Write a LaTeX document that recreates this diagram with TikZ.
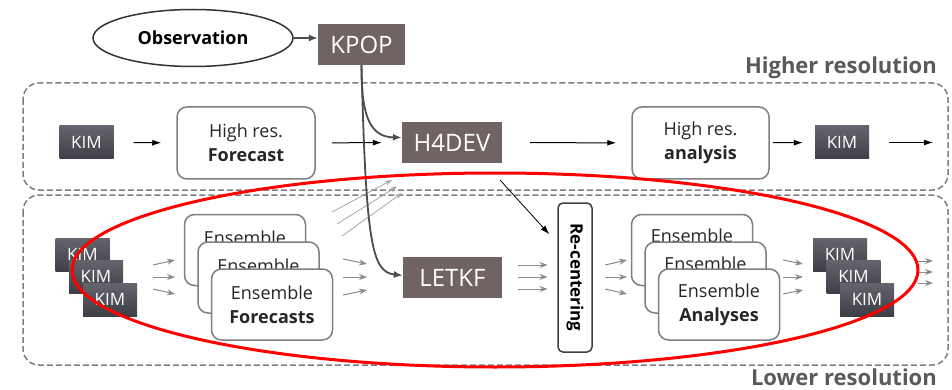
\documentclass[tikz,border=0pt]{standalone}
\usepackage{fontspec}
\setmainfont{Open Sans}
\usetikzlibrary{arrows.meta,shapes.geometric}

\definecolor{boxbrown}{HTML}{706363}
\definecolor{kimtop}{HTML}{64646C}
\definecolor{kimbot}{HTML}{3E3E46}
\definecolor{linegray}{HTML}{7F7F7F}
\definecolor{fangray}{HTML}{8A8A8A}
\definecolor{labelgray}{HTML}{5A5A5A}

\tikzset{
	kim/.style = {rectangle, minimum width=54pt, minimum height=33pt, inner sep=0pt, top color=kimtop, bottom color=kimbot, text=white, font=\fontsize{17}{20}\selectfont},
	brownbox/.style = {rectangle, fill=boxbrown, text=white, inner sep=0pt, font=\fontsize{24}{28}\selectfont},
	resbox/.style = {rectangle, draw=linegray, line width=1.5pt, rounded corners=10pt, fill=white, align=center, minimum width=138pt, minimum height=72pt, inner sep=0pt, text=black!85, font=\fontsize{18}{24}\selectfont},
	ensbox/.style = {resbox, minimum width=121pt, minimum height=71pt},
	obsnode/.style = {ellipse, draw=black!80, line width=1.5pt, minimum width=200pt, minimum height=57pt, inner sep=0pt, font=\bfseries\fontsize{18}{22}\selectfont},
	region/.style = {draw=linegray, line width=1.5pt, dash pattern=on 6pt off 3pt, rounded corners=16pt},
	restitle/.style = {inner sep=0pt, text=labelgray, font=\bfseries\fontsize{22}{24}\selectfont},
	darrow/.style = {-{Latex[length=9pt,width=6pt]}, line width=1pt, black},
	curvearrow/.style = {-{Latex[length=9pt,width=7pt]}, line width=1.8pt, black!70},
	garrow/.style = {-{Stealth[length=8pt,width=6pt]}, line width=1pt, fangray},
	faint/.style = {-{Stealth[length=7pt,width=5pt]}, line width=0.8pt, black!35}
}

\begin{document}
\begin{tikzpicture}[x=1pt,y=-1pt]
	\useasboundingbox (0,0) rectangle (952,390);

	\draw[region] (23,83) rectangle (948,190);
	\draw[region] (23,195) rectangle (948,365);
	\node[restitle, anchor=base east] (hilabel) at (937,74) {Higher resolution};
	\node[restitle, anchor=base east] (lolabel) at (937,385) {Lower resolution};

	\node[obsnode] (obs) at (193,38) {Observation};
	\node[brownbox, minimum width=87pt, minimum height=41pt] (kpop) at (361.5,44.5) {KPOP};
	\draw[curvearrow, line width=1.5pt] (obs.east) -- (obs.east -| kpop.west);

	\node[kim] (kimhi) at (86.5,142.5) {KIM};
	\node[resbox] (fcsthi) at (246,143) {High res.\\\textbf{Forecast}};
	\node[brownbox, minimum width=100pt, minimum height=41pt] (h4dev) at (452,142.5) {H4DEV};
	\node[resbox, minimum width=137pt] (anlhi) at (700.5,143) {High res.\\\textbf{analysis}};
	\node[kim] (kimhiout) at (842,142.5) {KIM};
	\coordinate (hiend) at (933,142.5);

	\draw[darrow, shorten <=20pt, shorten >=15pt] (kimhi) -- (fcsthi);
	\draw[darrow, shorten <=16pt, shorten >=20pt] (fcsthi) -- (h4dev);
	\draw[darrow, shorten <=28pt, shorten >=15pt] (h4dev) -- (anlhi);
	\draw[darrow, shorten <=3pt, shorten >=12pt] (anlhi) -- (kimhiout);
	\draw[darrow, shorten <=20pt] (kimhiout) -- (hiend);

	\node[kim] (kimlo1) at (82.5,254.5) {KIM};
	\node[kim] (kimlo2) at (96,276.5) {KIM};
	\node[kim] (kimlo3) at (110,299.5) {KIM};

	\node[ensbox] (ensf1) at (245,250) {Ensemble\\\phantom{\textbf{Forecasts}}};
	\node[ensbox] (ensf2) at (258.5,277.5) {Ensemble\\\phantom{\textbf{Forecasts}}};
	\node[ensbox] (ensf3) at (272,304.5) {Ensemble\\\textbf{Forecasts}};

	\node[brownbox, minimum width=99pt, minimum height=41pt] (letkf) at (452.5,277.5) {LETKF};
	\node[rectangle, draw=black!75, line width=1.5pt, rounded corners=5pt, rotate=-90, minimum width=149pt, minimum height=34pt, inner sep=0pt, font=\bfseries\fontsize{17}{20}\selectfont] (recenter) at (575,277.5) {Re-centering};

	\node[ensbox] (ensa1) at (692,250) {Ensemble\\\phantom{\textbf{Analyses}}};
	\node[ensbox] (ensa2) at (705.5,277.5) {Ensemble\\\phantom{\textbf{Analyses}}};
	\node[ensbox] (ensa3) at (719,304.5) {Ensemble\\\textbf{Analyses}};

	\node[kim] (kimout1) at (840,254.5) {KIM};
	\node[kim] (kimout2) at (853.5,276.5) {KIM};
	\node[kim] (kimout3) at (867,299.5) {KIM};

	\coordinate (fanA) at (164,277);
	\coordinate (fanB) at (355,277);
	\coordinate (fanC) at (532.5,277);
	\coordinate (fanD) at (616,277);
	\coordinate (fanE) at (793,277);
	\coordinate (fanF) at (925.5,272);
	\foreach \p/\h/\ya/\yb in {fanA/11/12/17, fanB/12/18/13, fanC/15/12/12, fanD/11/12/17, fanE/10/17/13, fanF/7.5/11/11}
		\foreach \dy in {-1,0,1}
			\draw[garrow] ([shift={(-\h,\dy*\ya)}]\p) -- ([shift={(\h,\dy*\yb)}]\p);

	\coordinate (fanG) at (367,208);
	\foreach \i in {0,1,2}
		\draw[faint] ([shift={(-35+5*\i,4+12*\i)}]fanG) -- ([shift={(25+5*\i,-28+6.5*\i)}]fanG);

	\draw[curvearrow] (kpop.south) .. controls (361,120) and (372,137) .. ([yshift=5pt]h4dev.west);
	\draw[curvearrow] (kpop.south) .. controls (366,245) and (372,272) .. ([yshift=2pt]letkf.west);
	\draw[darrow, line width=0.8pt] ([xshift=-2pt,yshift=-17pt]h4dev.south east) -- ([xshift=-8pt,yshift=-32pt]recenter.south west);

	\draw[red, line width=3pt] (495,270) ellipse [x radius=423, y radius=97];
\end{tikzpicture}
\end{document}
